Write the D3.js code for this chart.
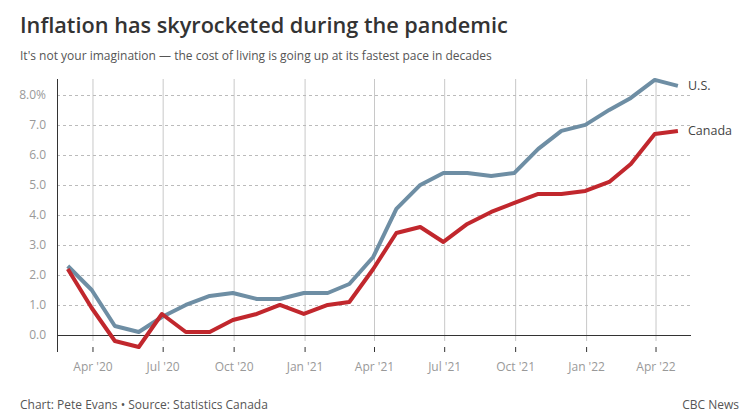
<!DOCTYPE html>
<html>
<head>
<meta charset="utf-8">
<script src="https://cdn.jsdelivr.net/npm/d3@7"></script>
<style>
  body { margin: 0; background: #fff; font-family: "Open Sans", sans-serif; }
  .title { font-size: 21.7px; font-weight: 600; fill: #333; }
  .subtitle { font-size: 12px; fill: #555; }
  .tick-label { font-size: 12px; fill: #999; }
  .foot { font-size: 12px; fill: #555; }
  .series-label { font-size: 12.5px; fill: #444; }
</style>
</head>
<body>
<div id="chart"></div>
<script>
// monthly, Feb 2020 .. Apr 2022 (year-over-year CPI, %)
const months = [
  "2020-02", "2020-03", "2020-04", "2020-05", "2020-06", "2020-07", "2020-08", "2020-09",
  "2020-10", "2020-11", "2020-12", "2021-01", "2021-02", "2021-03", "2021-04", "2021-05",
  "2021-06", "2021-07", "2021-08", "2021-09", "2021-10", "2021-11", "2021-12", "2022-01",
  "2022-02", "2022-03", "2022-04"
];
const canada = [2.2, 0.9, -0.2, -0.4, 0.7, 0.1, 0.1, 0.5, 0.7, 1.0, 0.7, 1.0, 1.1, 2.2, 3.4, 3.6,
  3.1, 3.7, 4.1, 4.4, 4.7, 4.7, 4.8, 5.1, 5.7, 6.7, 6.8];
const us = [2.3, 1.5, 0.3, 0.1, 0.6, 1.0, 1.3, 1.4, 1.2, 1.2, 1.4, 1.4, 1.7, 2.6, 4.2, 5.0,
  5.4, 5.4, 5.3, 5.4, 6.2, 6.8, 7.0, 7.5, 7.9, 8.5, 8.3];
const yTicks = [0, 1, 2, 3, 4, 5, 6, 7, 8];
const xTicks = ["2020-04-01", "2020-07-01", "2020-10-01", "2021-01-01", "2021-04-01",
  "2021-07-01", "2021-10-01", "2022-01-01", "2022-04-01"];

const width = 750, height = 416;
const svg = d3.select("#chart").append("svg")
  .attr("width", width)
  .attr("height", height);

// each month's reading is placed at the end of that month
const parseMonth = d3.timeParse("%Y-%m");
const monthEnd = m => d3.timeDay.offset(d3.timeMonth.offset(parseMonth(m), 1), -1);

const x = d3.scaleTime()
  .domain([new Date(2020, 1, 15), new Date(2022, 4, 17)])
  .range([57, 691]);

const y = d3.scaleLinear()
  .domain([-0.4, 8.53])
  .range([347, 79]);

svg.append("text").attr("class", "title")
  .attr("x", 20).attr("y", 33)
  .text("Inflation has skyrocketed during the pandemic");

svg.append("text").attr("class", "subtitle")
  .attr("x", 20).attr("y", 60)
  .text("It's not your imagination \u2014 the cost of living is going up at its fastest pace in decades");

// vertical grid
svg.append("g")
  .selectAll("line")
  .data(xTicks)
  .join("line")
  .attr("x1", d => x(new Date(d)) + 0.5)
  .attr("x2", d => x(new Date(d)) + 0.5)
  .attr("y1", 79)
  .attr("y2", 341)
  .attr("stroke", "#c8c8c8")
  .attr("stroke-width", 1);

// horizontal dashed grid
svg.append("g")
  .selectAll("line")
  .data(yTicks.filter(d => d !== 0))
  .join("line")
  .attr("x1", 57)
  .attr("x2", 691)
  .attr("y1", d => Math.round(y(d)) + 0.5)
  .attr("y2", d => Math.round(y(d)) + 0.5)
  .attr("stroke", "#bbb")
  .attr("stroke-dasharray", "3,3");

// y labels
svg.append("g")
  .selectAll("text")
  .data(yTicks)
  .join("text")
  .attr("class", "tick-label")
  .attr("x", 46)
  .attr("y", d => y(d))
  .attr("dy", "0.35em")
  .attr("text-anchor", "end")
  .text(d => d === 8 ? d3.format(".1f")(d) + "%" : d3.format(".1f")(d));

// x axis: ticks + labels, no domain line
svg.append("g")
  .attr("transform", "translate(0, 347)")
  .call(d3.axisBottom(x)
    .tickValues(xTicks.map(d => new Date(d)))
    .tickSize(5)
    .tickPadding(10)
    .tickFormat(d => d3.timeFormat("%b '%y")(d)))
  .call(g => g.select(".domain").remove())
  .call(g => g.selectAll(".tick line").attr("stroke", "#333"))
  .call(g => g.selectAll(".tick text")
    .attr("font-family", "Open Sans, sans-serif")
    .attr("font-size", 12)
    .attr("fill", "#999"));

// y axis line + zero line
svg.append("line")
  .attr("x1", 57.5).attr("x2", 57.5)
  .attr("y1", 79).attr("y2", 352)
  .attr("stroke", "#333");
svg.append("line")
  .attr("x1", 57).attr("x2", 691)
  .attr("y1", Math.round(y(0)) + 0.5).attr("y2", Math.round(y(0)) + 0.5)
  .attr("stroke", "#333");

const line = d3.line()
  .x((d, i) => x(monthEnd(months[i])))
  .y(d => y(d));

svg.append("path")
  .datum(us)
  .attr("fill", "none")
  .attr("stroke", "#6e8ea4")
  .attr("stroke-width", 4)
  .attr("stroke-linejoin", "round")
  .attr("d", line);

svg.append("path")
  .datum(canada)
  .attr("fill", "none")
  .attr("stroke", "#c1272d")
  .attr("stroke-width", 4)
  .attr("stroke-linejoin", "round")
  .attr("d", line);

svg.append("text").attr("class", "series-label")
  .attr("x", 688).attr("y", y(us[us.length - 1]))
  .attr("dy", "0.35em")
  .text("U.S.");
svg.append("text").attr("class", "series-label")
  .attr("x", 688).attr("y", y(canada[canada.length - 1]))
  .attr("dy", "0.35em")
  .text("Canada");

svg.append("text").attr("class", "foot")
  .attr("x", 20).attr("y", 409)
  .text("Chart: Pete Evans \u2022 Source: Statistics Canada");
svg.append("text").attr("class", "foot")
  .attr("x", 739).attr("y", 409)
  .attr("text-anchor", "end")
  .text("CBC News");
</script>
</body>
</html>
